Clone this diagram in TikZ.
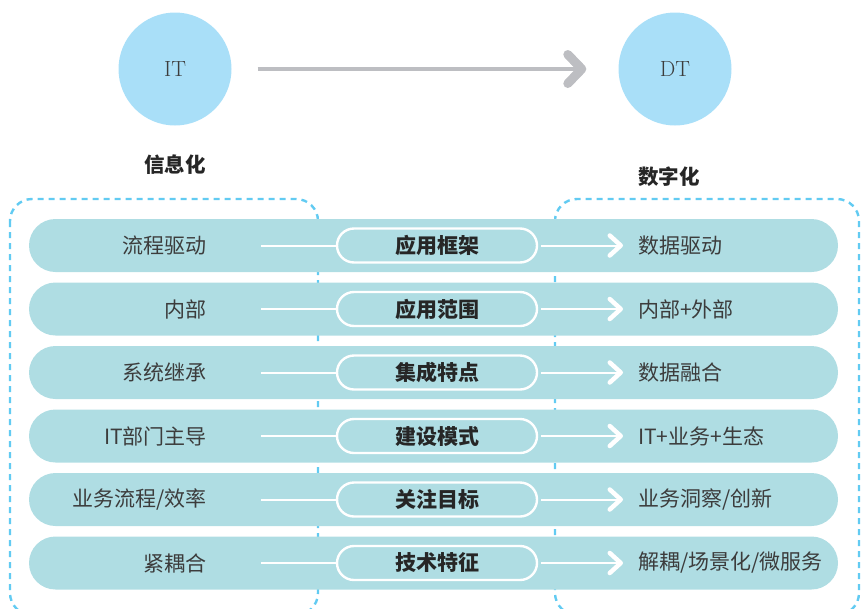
\documentclass[tikz,border=0pt]{standalone}
\usepackage{fontspec}
\newfontfamily\cjk{Noto Sans CJK SC}
\usetikzlibrary{arrows.meta}
\definecolor{pillc}{HTML}{AFDDE3}
\definecolor{circc}{HTML}{A9DFF8}
\definecolor{dashc}{HTML}{62CBF2}
\definecolor{arrowc}{HTML}{BDBEC2}
\definecolor{txtc}{HTML}{3C3C3C}
\tikzset{
  circ/.style={circle, fill=circc, minimum size=113pt, inner sep=0pt, font=\fontsize{22}{22}\selectfont, text=txtc},
  title/.style={font=\cjk\bfseries\fontsize{20.5}{20.5}\selectfont, text=black!85},
  pill/.style={fill=pillc, rounded corners=26.5pt, minimum width=809pt, minimum height=53pt, inner sep=0pt},
  mid/.style={draw=white, line width=2.4pt, rounded corners=17pt, minimum width=200pt, minimum height=34pt, inner sep=0pt,
    font=\cjk\bfseries\fontsize{21}{21}\selectfont, text=black!85},
  lt/.style={anchor=east, font=\cjk\fontsize{21}{21}\selectfont, text=txtc, inner sep=0pt},
  rt/.style={anchor=west, font=\cjk\fontsize{21}{21}\selectfont, text=txtc, inner sep=0pt},
  dbox/.style={draw=dashc, line width=2.4pt, dash pattern=on 6pt off 5pt, rounded corners=22pt},
  wline/.style={draw=white, line width=2pt},
  warrow/.style={draw=white, line width=2pt, -{Straight Barb[length=11pt, width=20pt, line width=4.5pt, round]}},
}
\begin{document}
\begin{tikzpicture}[x=1pt, y=-1pt]
\useasboundingbox (0,0) rectangle (861,608);
\clip (0,0) rectangle (861,608);
% circles and top arrow
\node[circ] (it) at (175,69) {IT};
\node[circ] (dt) at (675,69) {DT};
\draw[arrowc, line width=4.5pt, shorten <=26pt, shorten >=32pt,
  -{Straight Barb[length=14pt, width=29pt, line width=9pt, round]}] (it) -- (dt);
\node[title] (t1) at (175,165) {信息化};
\node[title] (t2) at (669,177) {数字化};
% dashed boxes (behind pills)
\draw[dbox] (10,199) rectangle (318,615);
\draw[dbox] (555,199) rectangle (859,615);
% rows
\foreach \i/\y/\l/\m/\r in {
  1/245.5/流程驱动/应用框架/数据驱动,
  2/309/内部/应用范围/内部+外部,
  3/372.5/系统继承/集成特点/数据融合,
  4/436/IT部门主导/建设模式/IT+业务+生态,
  5/499.5/业务流程\slash 效率/关注目标/业务洞察\slash 创新,
  6/563/紧耦合/技术特征/解耦\slash 场景化\slash 微服务}{
  \node[pill] (p\i) at (433.5,\y) {};
  \node[lt] (l\i) at (207,\y) {\l};
  \node[mid] (m\i) at (437,\y) {\m};
  \node[rt] (r\i) at (638,\y) {\r};
  \coordinate (ls\i) at (261,\y);
  \coordinate (ae\i) at (623,\y);
  \draw[wline] (ls\i) -- (m\i.west);
  \draw[warrow] ([xshift=3pt]m\i.east) -- (ae\i);
}
\end{tikzpicture}
\end{document}
